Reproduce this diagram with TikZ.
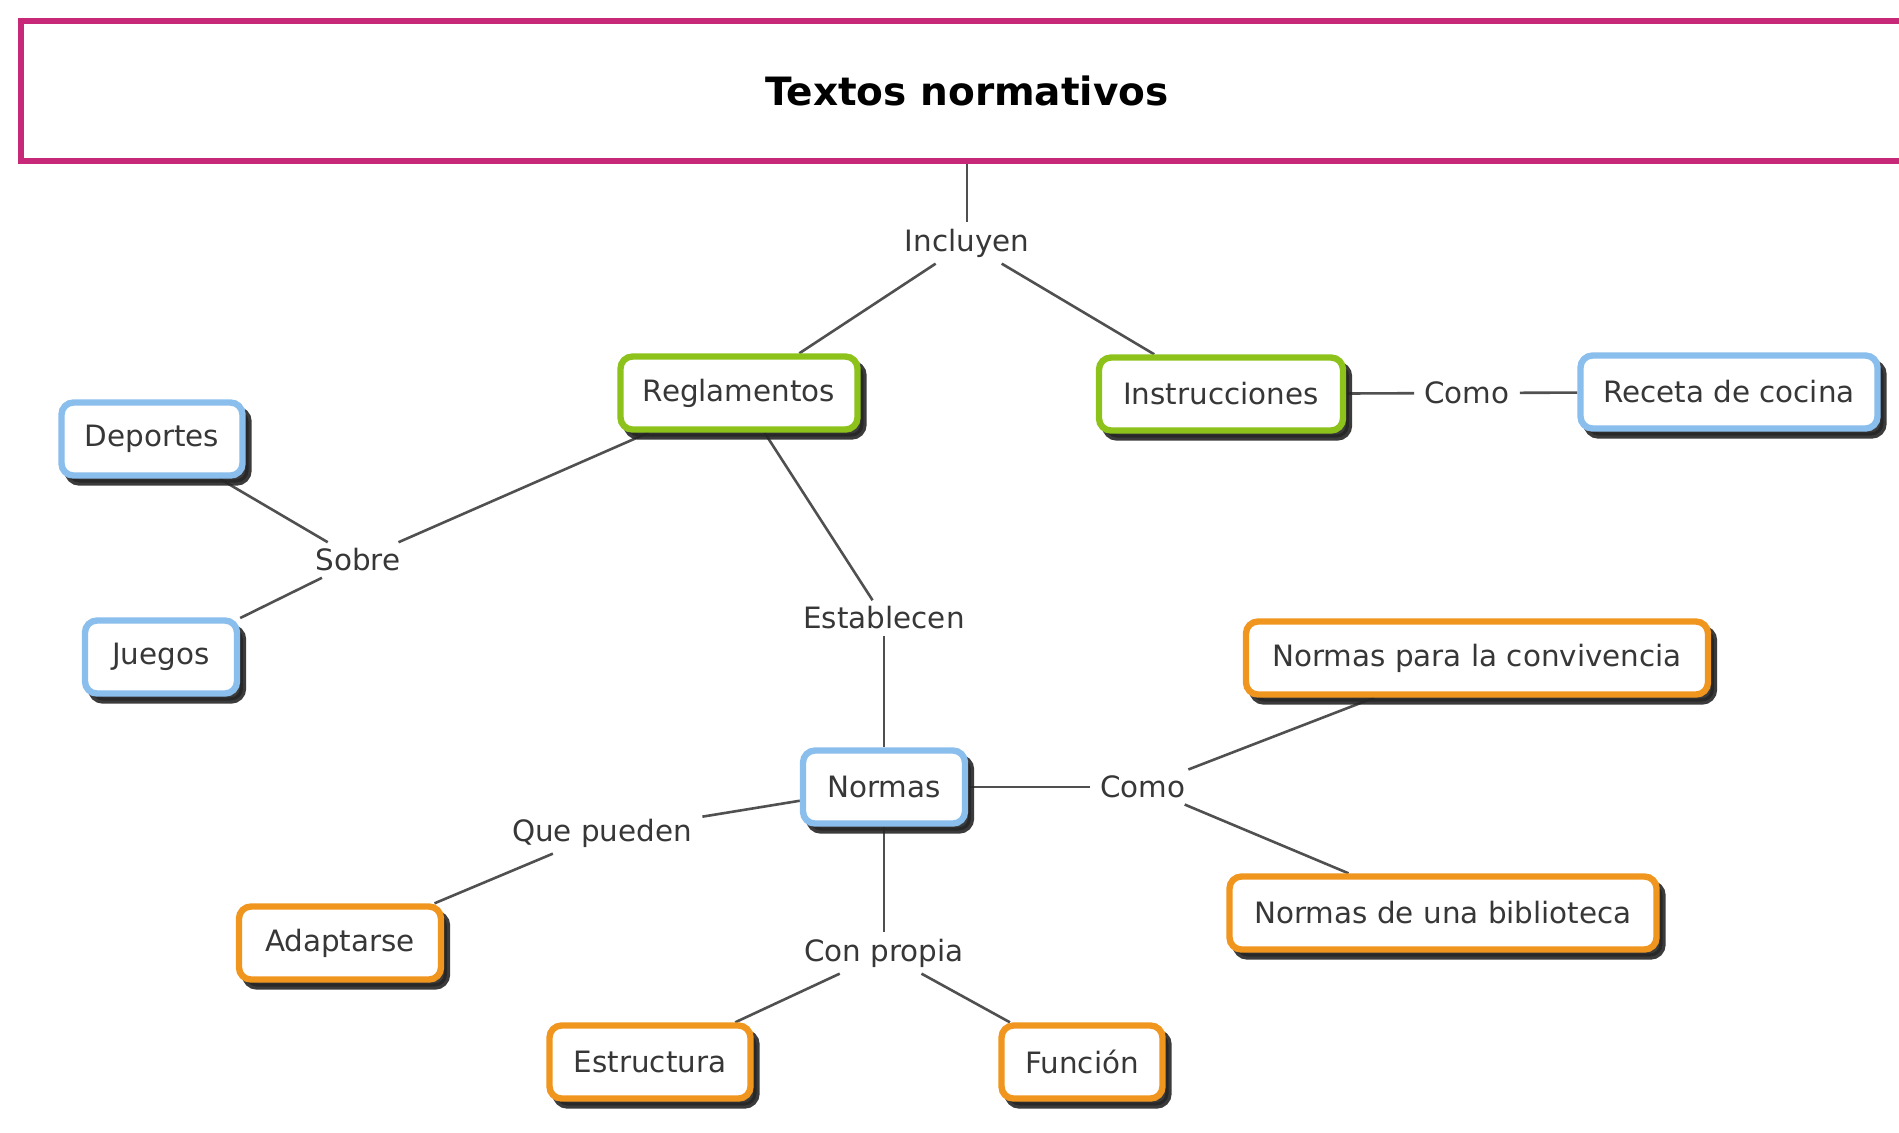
\documentclass[tikz,border=0pt]{standalone}
\usepackage{fontspec}
\setmainfont{DejaVu Sans}
\usetikzlibrary{shadows,backgrounds}
\definecolor{cgreen}{RGB}{140,194,26}
\definecolor{cblue}{RGB}{138,190,236}
\definecolor{corange}{RGB}{240,150,30}
\definecolor{cmag}{RGB}{200,40,120}
\definecolor{txt}{RGB}{55,55,55}
\definecolor{lin}{RGB}{80,80,80}
\tikzset{
  concept/.style={rounded corners=6pt, line width=3.2pt, fill=white, text=txt,
    font=\fontsize{14.7}{17}\selectfont, minimum height=36.5pt, inner sep=0pt,
    drop shadow={shadow xshift=3pt, shadow yshift=-3.5pt, fill=black!85, draw=black!85, line width=3.2pt, opacity=0.9}},
  greenbox/.style={concept, draw=cgreen},
  bluebox/.style={concept, draw=cblue},
  orangebox/.style={concept, draw=corange},
  link/.style={text=txt, font=\fontsize{14.7}{17}\selectfont, inner xsep=5pt, inner ysep=3pt},
  conn/.style={draw=lin, line width=1.3pt},
  titlebox/.style={draw=cmag, line width=3.2pt, fill=white, text=black,
    font=\fontsize{19.5}{23}\selectfont\bfseries, inner sep=0pt}
}
\begin{document}
\begin{tikzpicture}[x={(0.5pt,0)}, y={(0,-0.5pt)}]
\useasboundingbox (0,0) rectangle (1899,1132);
\node[titlebox, minimum width=946pt, minimum height=70pt] (title) at (967,91) {Textos normativos};

\node[link] (inc) at (967,243) {Incluyen};
\node[greenbox, minimum width=118.5pt] (regl) at (739,393) {Reglamentos};
\node[greenbox, minimum width=122pt] (instr) at (1221,394) {Instrucciones};
\node[link] (como1) at (1467,393) {Como};
\node[bluebox, minimum width=148.5pt] (receta) at (1729,392) {Receta de cocina};
\node[bluebox, minimum width=90.5pt] (dep) at (152,439) {Deportes};
\node[link] (sobre) at (358,560) {Sobre};
\node[bluebox, minimum width=76pt] (jue) at (161,657) {Juegos};
\node[link] (estab) at (884,618) {Establecen};
\node[bluebox, minimum width=81pt] (normas) at (884,787) {Normas};
\node[link] (como2) at (1143,787) {Como};
\node[orangebox, minimum width=231pt] (npc) at (1477,658) {Normas para la convivencia};
\node[orangebox, minimum width=213.5pt] (ndb) at (1443,913) {Normas de una biblioteca};
\node[link] (que) at (602,833) {Que pueden};
\node[orangebox, minimum width=101pt] (adapt) at (340,943) {Adaptarse};
\node[link] (conp) at (884,953) {Con propia};
\node[orangebox, minimum width=100.5pt] (estr) at (650,1062) {Estructura};
\node[orangebox, minimum width=80.5pt] (func) at (1082,1062) {Función};

\begin{scope}[on background layer]
\draw[conn] (title) -- (inc);
\draw[conn] (inc) -- (regl);
\draw[conn] (inc) -- (instr);
\draw[conn] (instr) -- (como1);
\draw[conn] (como1) -- (receta);
\draw[conn] (regl) -- (sobre);
\draw[conn] (sobre) -- (dep);
\draw[conn] (sobre) -- (jue);
\draw[conn] (regl) -- (estab);
\draw[conn] (estab) -- (normas);
\draw[conn] (normas) -- (como2);
\draw[conn] (como2) -- (npc);
\draw[conn] (como2) -- (ndb);
\draw[conn] (normas) -- (que);
\draw[conn] (que) -- (adapt);
\draw[conn] (normas) -- (conp);
\draw[conn] (conp) -- (estr);
\draw[conn] (conp) -- (func);
\end{scope}
\end{tikzpicture}
\end{document}
